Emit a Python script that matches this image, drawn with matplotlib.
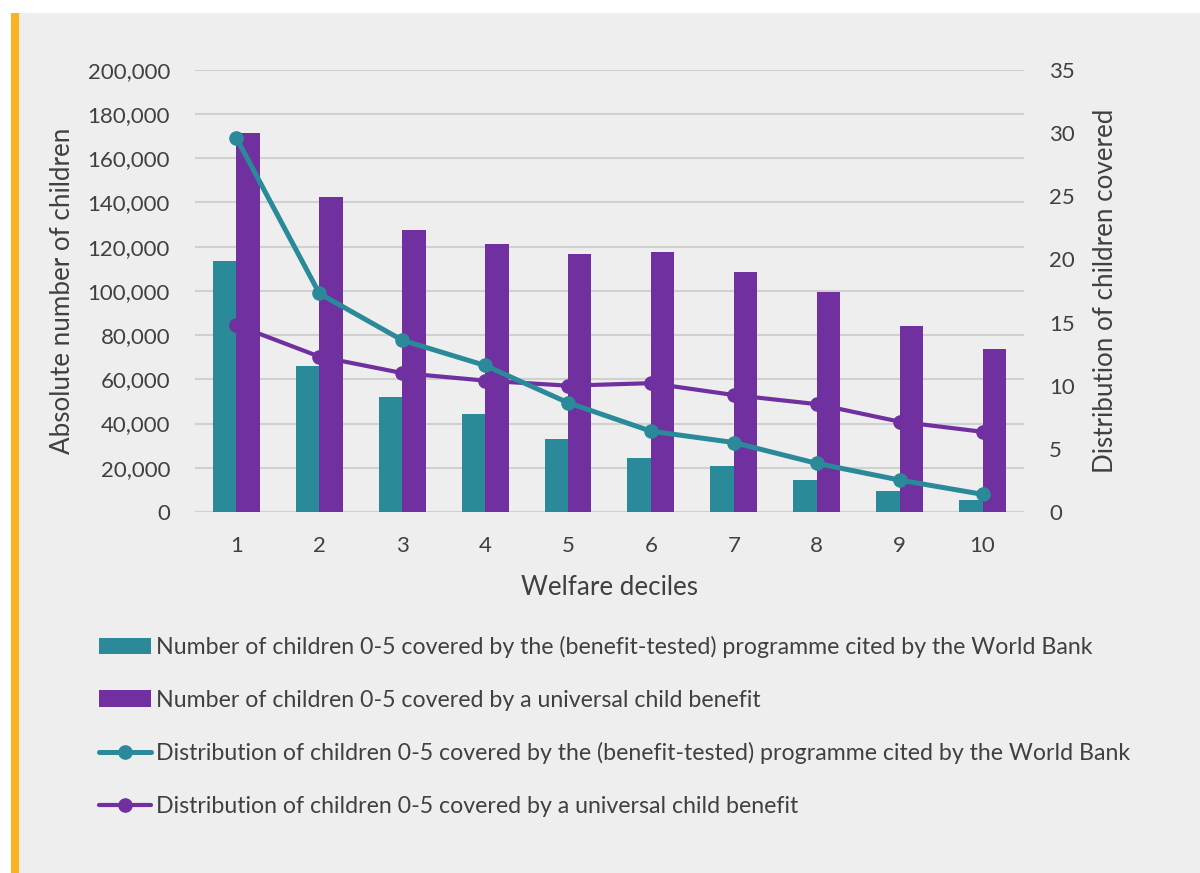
import matplotlib
matplotlib.use("Agg")
import matplotlib.pyplot as plt
from matplotlib.patches import Rectangle
from matplotlib.ticker import FuncFormatter
import numpy as np

# data
deciles = ["1", "2", "3", "4", "5", "6", "7", "8", "9", "10"]
n_tested = [113400, 66200, 52000, 44500, 32900, 24400, 21000, 14600, 9500, 5400]
n_universal = [171600, 142400, 127600, 121300, 116600, 117500, 108400, 99500, 84200, 73600]
dist_tested = [29.6, 17.3, 13.6, 11.6, 8.65, 6.4, 5.5, 3.85, 2.53, 1.4]
dist_universal = [14.8, 12.3, 11.0, 10.4, 10.0, 10.2, 9.26, 8.54, 7.15, 6.35]

labels = [
    "Number of children 0-5 covered by the (benefit-tested) programme cited by the World Bank",
    "Number of children 0-5 covered by a universal child benefit",
    "Distribution of children 0-5 covered by the (benefit-tested) programme cited by the World Bank",
    "Distribution of children 0-5 covered by a universal child benefit",
]

teal = "#2a8a99"
purple = "#7030a0"
panel = "#eeeeee"
txt = "#404040"

plt.rcParams["font.family"] = ["Lato", "DejaVu Sans"]

fig = plt.figure(figsize=(12, 8.73), dpi=100, facecolor="white")

# grey panel and orange accent bar
fig.add_artist(Rectangle((0.0158, 0), 1 - 0.0158, 0.985, transform=fig.transFigure,
                         facecolor=panel, edgecolor="none", zorder=-10))
fig.add_artist(Rectangle((0.0092, 0), 0.0066, 0.985, transform=fig.transFigure,
                         facecolor="#fbb21d", edgecolor="none", zorder=-10))

ax = fig.add_axes([0.1625, 0.4135, 0.8533 - 0.1625, 0.920 - 0.4135])
ax.set_facecolor("none")

x = np.arange(1, len(deciles) + 1)
w = 0.283
b1 = ax.bar(x - w / 2, n_tested, width=w, color=teal, zorder=3)
b2 = ax.bar(x + w / 2, n_universal, width=w, color=purple, zorder=3)

ax.set_xlim(0.5, 10.5)
ax.set_ylim(0, 200000)
ax.set_yticks(np.arange(0, 200001, 20000))
ax.yaxis.set_major_formatter(FuncFormatter(lambda v, p: f"{int(v):,}"))
ax.set_xticks(x)
ax.set_xticklabels(deciles)
ax.grid(axis="y", color="#d0d0d0", linewidth=1.5, zorder=0)
for s in ax.spines.values():
    s.set_visible(False)
ax.tick_params(length=0, labelsize=16, labelcolor=txt)
ax.tick_params(axis="y", pad=18)
ax.tick_params(axis="x", pad=17)
ax.set_ylabel("Absolute number of children", fontsize=18.7, color=txt, labelpad=9)
ax.set_xlabel("Welfare deciles", fontsize=18.7, color=txt, labelpad=14)

ax2 = ax.twinx()
ax2.set_ylim(0, 35)
ax2.set_yticks(np.arange(0, 36, 5))
for s in ax2.spines.values():
    s.set_visible(False)
ax2.tick_params(length=0, labelsize=16, labelcolor=txt, pad=18)
l1, = ax2.plot(x, dist_tested, color=teal, lw=3.6, marker="o", markersize=9.5,
               solid_capstyle="round", zorder=5)
l2, = ax2.plot(x, dist_universal, color=purple, lw=3.0, marker="o", markersize=9.5,
               solid_capstyle="round", zorder=4)
ax2.set_ylabel("Distribution of children covered", fontsize=18.7, color=txt, labelpad=13)

fig.legend([b1, b2, l1, l2], labels, loc="upper left", bbox_to_anchor=(0.075, 0.282),
           frameon=False, fontsize=16.7, labelcolor=txt, handlelength=2.25,
           handletextpad=0.2, labelspacing=1.36, borderaxespad=0)

fig.savefig("out.png", dpi=100, facecolor=fig.get_facecolor())
